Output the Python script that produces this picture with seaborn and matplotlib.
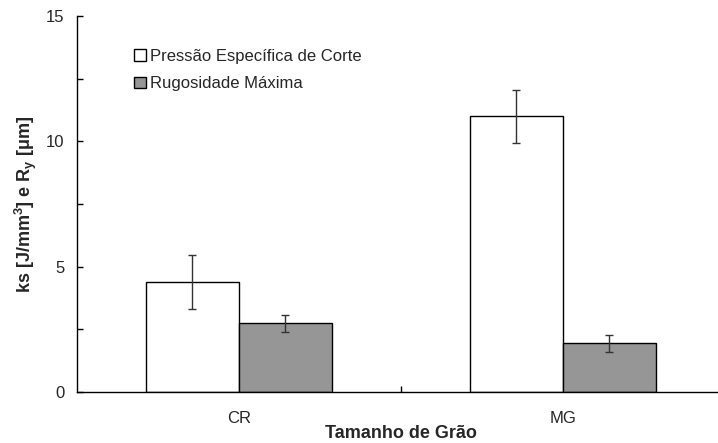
import pandas as pd
import numpy as np
import matplotlib.pyplot as plt
import seaborn as sns

# values
groups = ["CR", "MG"]
series = ["Pressão Específica de Corte", "Rugosidade Máxima"]
ks_mean = [4.38, 11.0]
ks_err = [1.07, 1.06]
ry_mean = [2.74, 1.94]
ry_err = [0.33, 0.33]

df = pd.DataFrame({
    "grupo": groups * 2,
    "serie": [series[0]] * 2 + [series[1]] * 2,
    "valor": ks_mean + ry_mean,
    "erro": ks_err + ry_err,
})

sns.set_theme(style="white")
plt.rcParams["font.family"] = ["Liberation Sans", "DejaVu Sans"]
plt.rcParams["mathtext.default"] = "regular"

fig = plt.figure(figsize=(7.18, 4.43), dpi=100)
ax = fig.add_axes([0.107, 0.115, 0.893, 0.849])

sns.barplot(data=df, x="grupo", y="valor", hue="serie", order=groups,
            hue_order=series, palette=["white", "#969696"], width=0.574,
            gap=0, edgecolor="black", linewidth=1.0, errorbar=None, ax=ax)

# error bars placed on the bars seaborn drew
for cont, s in zip(ax.containers, series):
    sub = df[df["serie"] == s].set_index("grupo").loc[groups]
    xs = [p.get_x() + p.get_width() / 2 for p in cont.patches]
    ax.errorbar(xs, sub["valor"], yerr=sub["erro"], fmt="none",
                ecolor="#333333", elinewidth=1.0, capsize=3, capthick=1.0)

ax.set_ylim(0, 15)
ax.set_xlim(-0.5, 1.48)
ax.set_yticks([0, 5, 10, 15])
ax.set_yticks([2.5, 7.5, 12.5], minor=True)
ax.set_xticks([0.5], minor=True)
ax.tick_params(axis="y", which="both", direction="in", length=4, width=1,
               color="black", left=True, labelsize=12, pad=9)
ax.tick_params(axis="x", which="major", length=0, labelsize=12, pad=14)
ax.tick_params(axis="x", which="minor", direction="in", length=4, width=1,
               color="black", bottom=True)

for side in ["top", "right"]:
    ax.spines[side].set_visible(False)
for side in ["left", "bottom"]:
    ax.spines[side].set_color("black")
    ax.spines[side].set_linewidth(1.0)

ax.set_xlabel("Tamanho de Grão", fontsize=13, fontweight="bold")
ax.xaxis.set_label_coords(0.5055, -0.088)
ax.set_ylabel("ks [J/mm$^3$] e R$_y$ [μm]", fontsize=13, fontweight="bold")
ax.yaxis.set_label_coords(-0.059, 0.5)

ax.legend(title=None, frameon=False, loc="upper left",
          bbox_to_anchor=(0.079, 0.93), fontsize=12, handlelength=0.7,
          handleheight=0.7, handletextpad=0.25, labelspacing=0.75,
          borderaxespad=0)

fig.savefig("out.png", dpi=100)
